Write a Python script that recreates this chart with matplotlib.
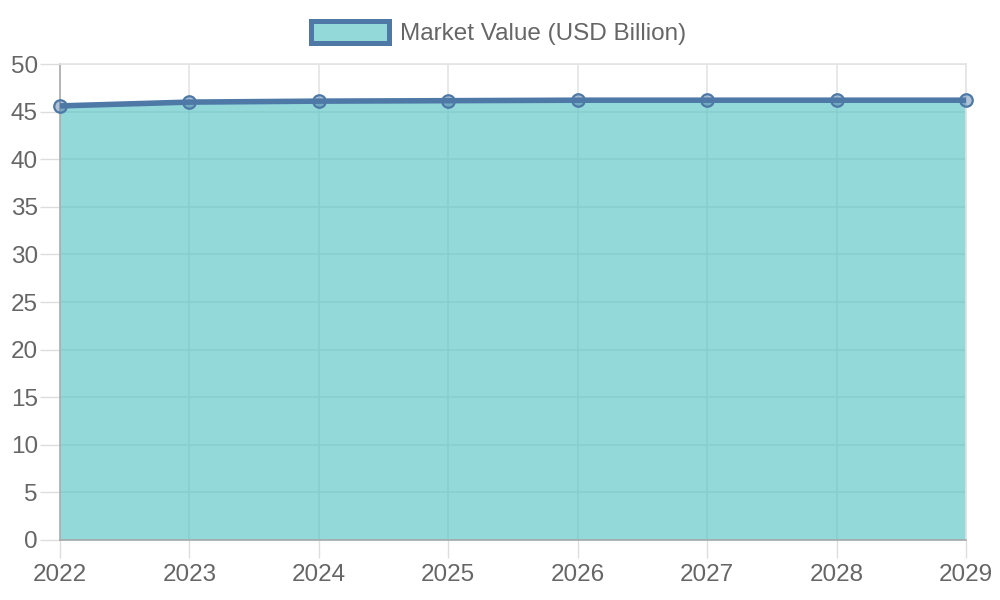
import matplotlib
matplotlib.use("Agg")
import matplotlib.pyplot as plt
import matplotlib.patches as mpatches

plt.rcParams["font.family"] = ["Liberation Sans", "DejaVu Sans"]

years = ["2022", "2023", "2024", "2025", "2026", "2027", "2028", "2029"]
market_value = [45.6, 46.0, 46.1, 46.15, 46.2, 46.2, 46.2, 46.2]
series_label = "Market Value (USD Billion)"
y_ticks = [0, 5, 10, 15, 20, 25, 30, 35, 40, 45, 50]

LINE = "#4e79a7"
FILL = (75 / 255, 192 / 255, 192 / 255, 0.6)
POINT = (78 / 255, 121 / 255, 167 / 255, 0.45)
GRID = "#e4e4e4"
TEXT = "#666666"
FS = 17.5

fig = plt.figure(figsize=(10, 6), dpi=100)
ax = fig.add_axes([0.06, 0.10, 0.906, 0.7933])

x = list(range(len(years)))
ax.fill_between(x, market_value, 0, color=FILL, linewidth=0, zorder=2)
ax.plot(x, market_value, color=LINE, linewidth=4.0, zorder=3,
        solid_capstyle="butt")
ax.plot(x, market_value, linestyle="none", marker="o", markersize=9,
        markerfacecolor=POINT, markeredgecolor=LINE, markeredgewidth=1.6,
        zorder=4, clip_on=False)

ax.set_xlim(0, len(years) - 1)
ax.set_ylim(0, 50)
ax.set_xticks(x)
ax.set_xticklabels(years)
ax.set_yticks(y_ticks)

ax.grid(True, color=GRID, linewidth=1.2, zorder=1)
ax.set_axisbelow(True)
for side in ("top", "right"):
    ax.spines[side].set_color(GRID)
    ax.spines[side].set_linewidth(1.2)
for side in ("left", "bottom"):
    ax.spines[side].set_color("#aaaaaa")
    ax.spines[side].set_linewidth(1.2)

ax.tick_params(axis="y", length=14.5, width=1.0, color="#dddddd",
               labelsize=FS, labelcolor=TEXT, pad=1.5)
ax.tick_params(axis="x", length=13, width=1.0, color="#dddddd",
               labelsize=FS, labelcolor=TEXT, pad=4.5)

handle = mpatches.Patch(facecolor=FILL, edgecolor=LINE, linewidth=3.6,
                        label=series_label)
fig.legend(handles=[handle], loc="center", bbox_to_anchor=(0.4985, 0.945),
           frameon=False, fontsize=FS, labelcolor=TEXT,
           handlelength=3.2, handleheight=1.0, handletextpad=0.45,
           borderpad=0, borderaxespad=0)

fig.savefig("out.png", dpi=100)
